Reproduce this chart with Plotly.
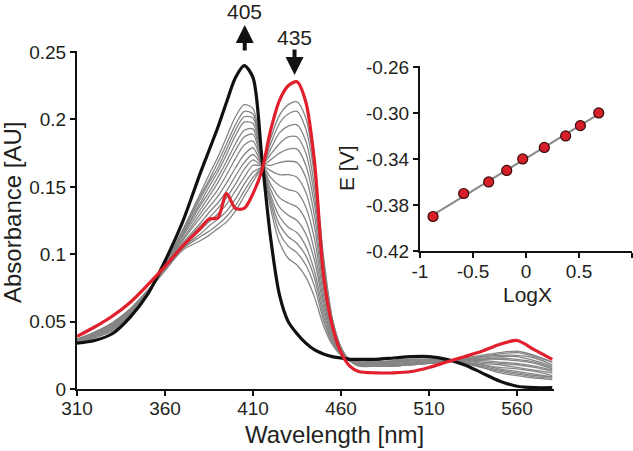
import numpy as np
import plotly.graph_objects as go

# ---------------- data: main spectra ----------------
wavelength = [310, 320, 330, 340, 350, 360, 370, 380, 385, 390, 395, 400, 405, 410, 415,
              420, 425, 430, 435, 440, 445, 450, 455, 460, 465, 470, 480, 490, 500, 510,
              520, 530, 540, 550, 560, 570, 580]

black_spectrum = [0.034, 0.036, 0.041, 0.053, 0.070, 0.095, 0.124, 0.160, 0.177, 0.194, 0.213,
                  0.231, 0.240, 0.231, 0.172, 0.112, 0.070, 0.050, 0.041, 0.034, 0.029, 0.026,
                  0.024, 0.023, 0.022, 0.022, 0.022, 0.023, 0.024, 0.024, 0.022, 0.018, 0.012,
                  0.006, 0.002, 0.001, 0.001]

red_spectrum = [0.039, 0.046, 0.054, 0.064, 0.077, 0.091, 0.106, 0.119, 0.126, 0.127, 0.145,
                0.134, 0.134, 0.145, 0.162, 0.192, 0.214, 0.225, 0.228, 0.213, 0.168, 0.085,
                0.047, 0.027, 0.017, 0.013, 0.012, 0.012, 0.013, 0.016, 0.020, 0.024, 0.028,
                0.033, 0.036, 0.029, 0.022]

gray_spectra = [
    [0.035, 0.038, 0.043, 0.055, 0.071, 0.093, 0.118, 0.145, 0.159, 0.172, 0.187, 0.202, 0.211, 0.208, 0.170,
     0.134, 0.109, 0.097, 0.092, 0.083, 0.068, 0.047, 0.033, 0.025, 0.022, 0.021, 0.020, 0.021, 0.022, 0.022,
     0.022, 0.019, 0.016, 0.012, 0.010, 0.008, 0.007],
    [0.035, 0.038, 0.044, 0.055, 0.071, 0.092, 0.117, 0.143, 0.155, 0.168, 0.182, 0.196, 0.206, 0.204, 0.169,
     0.138, 0.116, 0.106, 0.101, 0.092, 0.076, 0.051, 0.034, 0.026, 0.022, 0.020, 0.020, 0.021, 0.022, 0.022,
     0.021, 0.020, 0.016, 0.013, 0.011, 0.009, 0.008],
    [0.035, 0.039, 0.044, 0.056, 0.071, 0.092, 0.116, 0.141, 0.153, 0.164, 0.178, 0.192, 0.202, 0.201, 0.169,
     0.141, 0.122, 0.113, 0.108, 0.099, 0.082, 0.054, 0.036, 0.026, 0.022, 0.020, 0.020, 0.020, 0.021, 0.022,
     0.021, 0.020, 0.017, 0.014, 0.012, 0.010, 0.009],
    [0.035, 0.039, 0.045, 0.056, 0.071, 0.092, 0.115, 0.138, 0.150, 0.161, 0.174, 0.188, 0.198, 0.197, 0.169,
     0.144, 0.128, 0.120, 0.116, 0.106, 0.087, 0.058, 0.037, 0.027, 0.022, 0.020, 0.020, 0.020, 0.021, 0.022,
     0.021, 0.020, 0.018, 0.015, 0.013, 0.011, 0.009],
    [0.035, 0.039, 0.045, 0.056, 0.071, 0.091, 0.114, 0.136, 0.146, 0.157, 0.169, 0.182, 0.192, 0.193, 0.168,
     0.148, 0.135, 0.129, 0.125, 0.115, 0.095, 0.062, 0.038, 0.027, 0.022, 0.020, 0.019, 0.020, 0.021, 0.021,
     0.021, 0.020, 0.018, 0.016, 0.015, 0.013, 0.010],
    [0.036, 0.040, 0.046, 0.057, 0.072, 0.091, 0.113, 0.133, 0.143, 0.153, 0.165, 0.177, 0.187, 0.189, 0.168,
     0.152, 0.142, 0.138, 0.135, 0.125, 0.102, 0.066, 0.040, 0.028, 0.022, 0.020, 0.019, 0.020, 0.021, 0.021,
     0.021, 0.021, 0.019, 0.018, 0.016, 0.014, 0.012],
    [0.036, 0.040, 0.046, 0.057, 0.072, 0.091, 0.111, 0.130, 0.139, 0.148, 0.159, 0.171, 0.181, 0.184, 0.168,
     0.157, 0.151, 0.148, 0.146, 0.135, 0.111, 0.070, 0.042, 0.028, 0.021, 0.019, 0.019, 0.019, 0.020, 0.021,
     0.021, 0.021, 0.020, 0.019, 0.018, 0.016, 0.013],
    [0.036, 0.040, 0.047, 0.057, 0.072, 0.090, 0.110, 0.127, 0.135, 0.143, 0.153, 0.164, 0.174, 0.179, 0.167,
     0.162, 0.159, 0.159, 0.157, 0.146, 0.120, 0.075, 0.044, 0.029, 0.021, 0.019, 0.018, 0.019, 0.020, 0.020,
     0.021, 0.021, 0.021, 0.020, 0.019, 0.017, 0.014],
    [0.036, 0.041, 0.047, 0.058, 0.072, 0.090, 0.108, 0.123, 0.131, 0.138, 0.147, 0.158, 0.168, 0.174, 0.167,
     0.166, 0.168, 0.169, 0.168, 0.157, 0.128, 0.080, 0.046, 0.029, 0.021, 0.019, 0.018, 0.018, 0.019, 0.020,
     0.021, 0.021, 0.022, 0.022, 0.021, 0.019, 0.015],
    [0.036, 0.041, 0.048, 0.058, 0.072, 0.089, 0.107, 0.121, 0.127, 0.134, 0.142, 0.152, 0.163, 0.170, 0.166,
     0.170, 0.175, 0.178, 0.178, 0.166, 0.136, 0.084, 0.047, 0.030, 0.021, 0.018, 0.018, 0.018, 0.019, 0.020,
     0.021, 0.022, 0.022, 0.023, 0.022, 0.020, 0.016],
    [0.036, 0.042, 0.048, 0.059, 0.072, 0.089, 0.106, 0.118, 0.124, 0.130, 0.137, 0.147, 0.157, 0.166, 0.166,
     0.174, 0.182, 0.187, 0.187, 0.175, 0.143, 0.088, 0.049, 0.030, 0.021, 0.018, 0.017, 0.018, 0.019, 0.019,
     0.020, 0.022, 0.023, 0.024, 0.024, 0.021, 0.017],
    [0.036, 0.042, 0.049, 0.059, 0.072, 0.088, 0.105, 0.115, 0.121, 0.126, 0.132, 0.141, 0.152, 0.161, 0.165,
     0.178, 0.190, 0.195, 0.196, 0.184, 0.150, 0.092, 0.051, 0.030, 0.021, 0.018, 0.017, 0.017, 0.018, 0.019,
     0.020, 0.022, 0.024, 0.025, 0.025, 0.023, 0.018],
    [0.037, 0.042, 0.049, 0.059, 0.073, 0.088, 0.104, 0.113, 0.117, 0.122, 0.128, 0.136, 0.147, 0.157, 0.165,
     0.182, 0.197, 0.204, 0.206, 0.193, 0.158, 0.096, 0.052, 0.031, 0.021, 0.018, 0.017, 0.017, 0.018, 0.019,
     0.020, 0.022, 0.024, 0.026, 0.027, 0.024, 0.020],
    [0.037, 0.042, 0.049, 0.059, 0.073, 0.088, 0.103, 0.110, 0.114, 0.119, 0.124, 0.132, 0.143, 0.154, 0.165,
     0.186, 0.203, 0.211, 0.213, 0.201, 0.163, 0.099, 0.053, 0.031, 0.021, 0.017, 0.017, 0.017, 0.018, 0.019,
     0.020, 0.023, 0.025, 0.027, 0.028, 0.025, 0.020],
]

main_x_ticks = [310, 360, 410, 460, 510, 560]
main_y_ticks = [0, 0.05, 0.1, 0.15, 0.2, 0.25]
main_y_labels = ["0", "0.05", "0.1", "0.15", "0.2", "0.25"]

# ---------------- data: inset ----------------
log_x = [-0.877, -0.588, -0.352, -0.182, -0.031, 0.173, 0.374, 0.513, 0.686]
potential = [-0.390, -0.370, -0.360, -0.350, -0.340, -0.330, -0.320, -0.311, -0.300]

inset_x_ticks = [-1, -0.5, 0, 0.5, 1]
inset_x_labels = ["-1", "-0.5", "0", "0.5", "1"]
inset_y_ticks = [-0.42, -0.38, -0.34, -0.30, -0.26]
inset_y_labels = ["-0.42", "-0.38", "-0.34", "-0.30", "-0.26"]

# ---------------- figure ----------------
W, H = 633, 451
def px(x):
    return x / W
def py(y):
    return 1 - y / H

FONT = "Liberation Sans, Arial, sans-serif"
TXT = "#231f20"

fig = go.Figure()

for g in gray_spectra:
    fig.add_trace(go.Scatter(x=wavelength, y=g, mode="lines",
                             line=dict(color="#858585", width=1.3, shape="spline", smoothing=0.8),
                             hoverinfo="skip", showlegend=False, xaxis="x", yaxis="y"))
fig.add_trace(go.Scatter(x=wavelength, y=black_spectrum, mode="lines",
                         line=dict(color="#111111", width=3.2, shape="spline", smoothing=0.8),
                         showlegend=False, xaxis="x", yaxis="y"))
fig.add_trace(go.Scatter(x=wavelength, y=red_spectrum, mode="lines",
                         line=dict(color="#e11f2d", width=3.2, shape="spline", smoothing=0.8),
                         showlegend=False, xaxis="x", yaxis="y"))

# inset: linear fit line + points
slope, intercept = np.polyfit(log_x, potential, 1)
fit_x = [min(log_x), max(log_x)]
fit_y = [slope * v + intercept for v in fit_x]
fig.add_trace(go.Scatter(x=fit_x, y=fit_y, mode="lines",
                         line=dict(color="#8c8c8c", width=2.2),
                         showlegend=False, xaxis="x2", yaxis="y2"))
fig.add_trace(go.Scatter(x=log_x, y=potential, mode="markers",
                         marker=dict(color="#d71f2a", size=10, line=dict(color="#3a0a0a", width=1.2)),
                         showlegend=False, xaxis="x2", yaxis="y2"))

axis_common = dict(showline=True, linecolor="#111111", linewidth=2, ticks="outside",
                   ticklen=5, tickwidth=1.6, tickcolor="#111111", showgrid=False,
                   zeroline=False, mirror=False, automargin=False,
                   tickfont=dict(family=FONT, size=19, color=TXT))

fig.update_layout(
    template="none",
    width=W, height=H, margin=dict(l=0, r=0, t=0, b=0, pad=0, autoexpand=False),
    paper_bgcolor="white", plot_bgcolor="rgba(0,0,0,0)",
    xaxis=dict(domain=[px(77), px(554)], range=[310, 581], tickmode="array",
               tickvals=main_x_ticks, ticktext=[str(t) for t in main_x_ticks],
               anchor="y", ticklabelstandoff=-4, **axis_common),
    yaxis=dict(domain=[py(389), py(51)], range=[0, 0.2508], tickmode="array",
               tickvals=main_y_ticks, ticktext=main_y_labels, anchor="x", **axis_common),
    xaxis2=dict(domain=[px(420), px(632)], range=[-1, 1], tickmode="array",
                tickvals=inset_x_ticks, ticktext=inset_x_labels, anchor="y2",
                ticklabelstandoff=-3, **axis_common),
    yaxis2=dict(domain=[py(251), py(66)], range=[-0.42, -0.2592], tickmode="array",
                tickvals=inset_y_ticks, ticktext=inset_y_labels, anchor="x2", **axis_common),
    showlegend=False,
)

def label(text, x, y, size, xref="paper", angle=0):
    return dict(text=text, x=x, y=y, xref=xref, yref="paper", showarrow=False,
                xanchor="center", yanchor="middle", textangle=angle,
                font=dict(family=FONT, size=size, color=TXT))

annotations = [
    label("Wavelength [nm]", px(334), py(434), 24),
    label("Absorbance [AU]", px(12), py(213), 24, angle=-90),
    label("LogX", px(527), py(294), 21),
    label("E [V]", px(346), py(168), 21, angle=-90),
    label("405", 405.3, py(11), 21, xref="x"),
    label("435", 433.8, py(37), 21, xref="x"),
    dict(text="", x=405.3, y=py(25), xref="x", yref="paper", showarrow=True,
         ax=0, ay=27, arrowhead=2, arrowsize=0.9, arrowwidth=4, arrowcolor="#111111"),
    dict(text="", x=433.6, y=py(75), xref="x", yref="paper", showarrow=True,
         ax=0, ay=-27, arrowhead=2, arrowsize=0.9, arrowwidth=4, arrowcolor="#111111"),
]
fig.update_layout(annotations=annotations)

fig.write_html("out.html", config={"displayModeBar": False},
               post_script="document.body.style.margin='0';document.body.style.overflow='hidden';")
